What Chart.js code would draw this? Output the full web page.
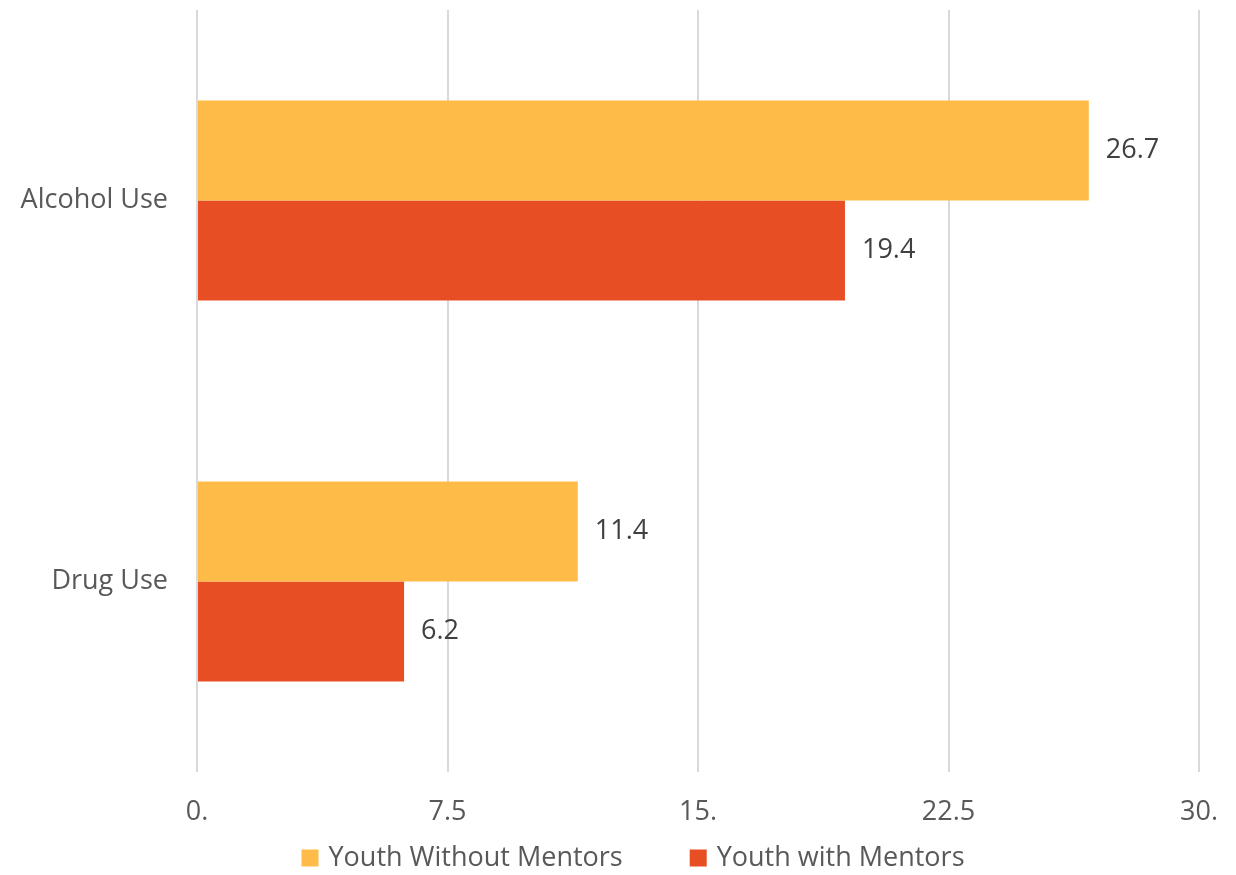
<!DOCTYPE html>
<html>
<head>
<meta charset="utf-8">
<script src="https://cdn.jsdelivr.net/npm/chart.js@4.4.1/dist/chart.umd.min.js"></script>
<style>
  html, body { margin: 0; padding: 0; background: #fff; }
  #wrap { width: 1236px; height: 875px; }
</style>
</head>
<body>
<div id="wrap"><canvas id="chart" width="1236" height="875"></canvas></div>
<script>
const categories = ['Alcohol Use', 'Drug Use'];
const withoutMentors = [26.7, 11.4];
const withMentors = [19.4, 6.2];
const tickLabels = { 0: '0.', 7.5: '7.5', 15: '15.', 22.5: '22.5', 30: '30.' };

const FONT = '"Open Sans", Lato, sans-serif';
const SIZE = 27;

// draws the value at the end of each bar
const valueLabels = {
  id: 'valueLabels',
  afterDatasetsDraw(chart) {
    const ctx = chart.ctx;
    ctx.save();
    ctx.font = `${SIZE}px ${FONT}`;
    ctx.fillStyle = '#404040';
    ctx.textAlign = 'left';
    ctx.textBaseline = 'middle';
    chart.data.datasets.forEach((ds, i) => {
      chart.getDatasetMeta(i).data.forEach((bar, j) => {
        ctx.fillText(ds.data[j].toFixed(1), bar.x + 17, bar.y);
      });
    });
    ctx.restore();
  }
};

// legend drawn by hand: the items sit far apart, wider than the built-in padding allows
const bottomLegend = {
  id: 'bottomLegend',
  afterDraw(chart) {
    const ctx = chart.ctx;
    const box = 17;
    const boxGap = 10;
    const itemGap = 67;
    const y = 858;
    ctx.save();
    ctx.font = `${SIZE}px ${FONT}`;
    ctx.textBaseline = 'middle';
    ctx.textAlign = 'left';
    const items = chart.data.datasets.map(ds => ({
      text: ds.label,
      color: ds.backgroundColor,
      w: box + boxGap + ctx.measureText(ds.label).width
    }));
    const total = items.reduce((s, it) => s + it.w, 0) + itemGap * (items.length - 1);
    let x = 633 - total / 2;
    items.forEach(it => {
      ctx.fillStyle = it.color;
      ctx.fillRect(x, y - box / 2, box, box);
      ctx.fillStyle = '#595959';
      ctx.fillText(it.text, x + box + boxGap, y);
      x += it.w + itemGap;
    });
    ctx.restore();
  }
};

new Chart(document.getElementById('chart'), {
  type: 'bar',
  data: {
    labels: categories,
    datasets: [
      { label: 'Youth Without Mentors', data: withoutMentors, backgroundColor: '#FFBB48' },
      { label: 'Youth with Mentors', data: withMentors, backgroundColor: '#E84E24' }
    ]
  },
  options: {
    indexAxis: 'y',
    responsive: false,
    animation: false,
    datasets: { bar: { barPercentage: 1, categoryPercentage: 0.525 } },
    layout: { padding: { top: 10, right: 37, bottom: 0, left: 0 } },
    scales: {
      x: {
        min: 0,
        max: 30,
        ticks: {
          stepSize: 7.5,
          color: '#595959',
          font: { family: FONT, size: SIZE },
          padding: 24,
          callback: v => tickLabels[v] ?? v
        },
        grid: { color: '#d9d9d9', lineWidth: 2, drawTicks: false },
        border: { display: false },
        afterFit: scale => {
          scale.height = 103;
          scale.paddingLeft = 0;
          scale.paddingRight = 0;
        }
      },
      y: {
        ticks: {
          color: '#595959',
          font: { family: FONT, size: SIZE },
          padding: 21
        },
        grid: { display: false },
        border: { display: false },
        afterFit: scale => {
          scale.width = 197;
          scale.paddingTop = 0;
          scale.paddingBottom = 0;
        }
      }
    },
    plugins: {
      legend: { display: false },
      tooltip: { enabled: false }
    }
  },
  plugins: [valueLabels, bottomLegend]
});
</script>
</body>
</html>
